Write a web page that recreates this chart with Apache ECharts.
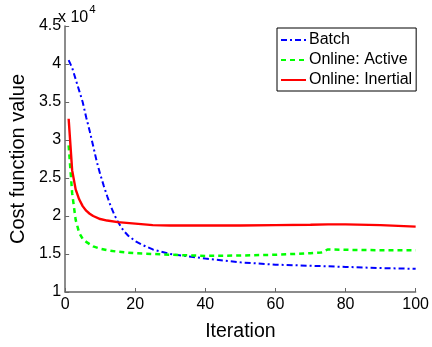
<!DOCTYPE html>
<html>
<head>
<meta charset="utf-8">
<script src="https://cdn.jsdelivr.net/npm/echarts@6/dist/echarts.min.js"></script>
<style>
  html, body { margin: 0; padding: 0; background: #fff; }
  #chart { width: 432px; height: 347px; }
</style>
</head>
<body>
<div id="chart"></div>
<script>
// Cost function value per iteration for three optimisation strategies
var batchIter = [1, 2, 3, 4, 5, 6, 7, 8, 9, 10, 11, 12, 13, 14, 15, 16, 17, 18, 20, 22, 25, 30, 40, 50, 60, 70, 80, 90, 100];
var batchCost = [40500, 39500, 38000, 36500, 35000, 33000, 31200, 29200, 27200, 25500, 24000, 22600, 21300, 20200, 19300, 18500, 17900, 17400, 16700, 16200, 15600, 15000, 14400, 13900, 13600, 13450, 13300, 13150, 13050];

var activeIter = [1, 2, 3, 4, 5, 6, 7, 8, 10, 12, 15, 20, 25, 30, 40, 50, 60, 70, 73, 75, 80, 90, 100];
var activeCost = [29300, 23000, 19500, 17800, 17000, 16600, 16300, 16000, 15700, 15500, 15300, 15100, 15000, 14900, 14750, 14800, 14900, 15100, 15200, 15600, 15550, 15500, 15500];

var inertialIter = [1, 2, 3, 4, 5, 6, 7, 8, 10, 12, 15, 20, 25, 30, 40, 50, 60, 70, 75, 80, 90, 100];
var inertialCost = [32800, 26000, 23500, 22200, 21300, 20700, 20300, 20000, 19600, 19400, 19200, 19000, 18800, 18750, 18750, 18750, 18800, 18850, 18900, 18900, 18800, 18600];

var seriesNames = ['Batch', 'Online: Active', 'Online: Inertial'];

function pairs(xs, ys) {
  return xs.map(function (x, i) { return [x, ys[i]]; });
}

var font = 'Liberation Sans, Arial, Helvetica, sans-serif';
var chart = echarts.init(document.getElementById('chart'), null, { renderer: 'canvas' });

chart.setOption({
  animation: false,
  backgroundColor: '#fff',
  grid: { left: 59, right: 14, top: 26, bottom: 41.5 },
  xAxis: {
    type: 'value',
    min: 0, max: 100, interval: 20,
    name: 'Iteration',
    nameLocation: 'middle',
    nameGap: 30,
    nameTextStyle: { fontFamily: font, fontSize: 19.5, color: '#000' },
    axisLine: { lineStyle: { color: '#666', width: 1.5 } },
    axisTick: { inside: true, length: 4, lineStyle: { color: '#666' } },
    axisLabel: { fontFamily: font, fontSize: 16, color: '#000', margin: 5 },
    splitLine: { show: false }
  },
  yAxis: {
    type: 'value',
    min: 10000, max: 45000, interval: 5000,
    name: 'Cost function value',
    nameLocation: 'middle',
    nameGap: 31,
    nameTextStyle: { fontFamily: font, fontSize: 20, color: '#000' },
    axisLine: { show: true, lineStyle: { color: '#666', width: 1.5 } },
    axisTick: { show: true, inside: true, length: 4, lineStyle: { color: '#666' } },
    axisLabel: {
      fontFamily: font, fontSize: 16, color: '#000', margin: 4,
      formatter: function (v) { return String(v / 10000); }
    },
    splitLine: { show: false }
  },
  legend: {
    data: seriesNames,
    orient: 'vertical',
    left: 277, top: 28,
    padding: [4, 4, 3, 3],
    itemGap: 4,
    itemWidth: 25, itemHeight: 14,
    borderColor: '#000', borderWidth: 1,
    backgroundColor: '#fff',
    itemStyle: { opacity: 0 },
    textStyle: { fontFamily: font, fontSize: 16, color: '#000', padding: [0, 0, 0, -2] }
  },
  graphic: [{
    type: 'text',
    left: 58, top: 4,
    style: {
      text: '{b|x 10}{s|4}',
      rich: {
        b: { fontFamily: font, fontSize: 16, fill: '#000', verticalAlign: 'bottom', padding: [6, 1, 0, 0] },
        s: { fontFamily: font, fontSize: 11.5, fill: '#000', verticalAlign: 'top' }
      }
    }
  }],
  series: [
    {
      name: seriesNames[0], type: 'line', showSymbol: false, symbol: 'none',
      data: pairs(batchIter, batchCost),
      itemStyle: { color: '#0000ff' },
      lineStyle: { color: '#0000ff', width: 2, type: [6, 3, 2, 3] }
    },
    {
      name: seriesNames[1], type: 'line', showSymbol: false, symbol: 'none',
      data: pairs(activeIter, activeCost),
      itemStyle: { color: '#00ff00' },
      lineStyle: { color: '#00ff00', width: 2.5, type: [5, 4] }
    },
    {
      name: seriesNames[2], type: 'line', showSymbol: false, symbol: 'none',
      data: pairs(inertialIter, inertialCost),
      itemStyle: { color: '#ff0000' },
      lineStyle: { color: '#ff0000', width: 2.4 }
    }
  ]
});
</script>
</body>
</html>
